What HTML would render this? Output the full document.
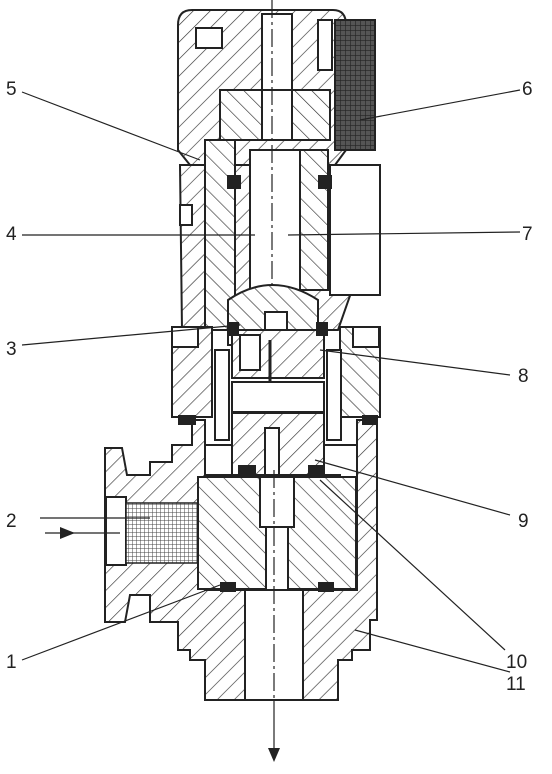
<!DOCTYPE html>
<html><head><meta charset="utf-8"><style>
html,body{margin:0;padding:0;background:#fff}
svg{display:block}
text{font-family:"Liberation Sans",sans-serif;font-size:19px;fill:#222}
.o{stroke:#222;stroke-width:2;fill:url(#h)}
.o2{stroke:#222;stroke-width:2;fill:url(#h2)}
.w{stroke:#222;stroke-width:2;fill:#fff}
.l{stroke:#222;stroke-width:1.2;fill:none}
</style></head><body>
<svg width="552" height="774" viewBox="0 0 552 774">
<defs>
<pattern id="h" width="12" height="12" patternUnits="userSpaceOnUse" patternTransform="rotate(45)"><rect width="12" height="12" fill="#fff"/><line x1="0" y1="0" x2="0" y2="12" stroke="#333" stroke-width="1.3"/></pattern>
<pattern id="h2" width="12" height="12" patternUnits="userSpaceOnUse" patternTransform="rotate(-45)"><rect width="12" height="12" fill="#fff"/><line x1="0" y1="0" x2="0" y2="12" stroke="#333" stroke-width="1.3"/></pattern>
<pattern id="m" width="4" height="4" patternUnits="userSpaceOnUse"><rect width="4" height="4" fill="#fff"/><path d="M0 0H4M0 0V4" stroke="#444" stroke-width="1"/></pattern>
<pattern id="k" width="5" height="5" patternUnits="userSpaceOnUse"><rect width="5" height="5" fill="#555"/><path d="M0 0H5M0 0V5" stroke="#222" stroke-width="1.2"/></pattern>
</defs>
<g>
<path class="o" d="M192 10 H333 Q346 10 346 25 V150 L335 165 H190 L178 150 V25 Q178 10 192 10Z"/>
<rect x="335" y="20" width="40" height="130" fill="url(#k)" stroke="#222" stroke-width="2"/>
<rect class="w" x="262" y="14" width="30" height="80"/>
<rect class="w" x="196" y="28" width="26" height="20"/>
<rect class="w" x="318" y="20" width="14" height="50"/>
<rect class="o2" x="220" y="90" width="110" height="50"/>
<rect class="w" x="262" y="90" width="30" height="50"/>
</g>
<g>
<path class="o" d="M180 165 H352 V290 L338 330 H182 Z"/>
<rect class="w" x="330" y="165" width="50" height="130"/>
<rect class="o2" x="205" y="140" width="30" height="190"/>
<rect class="o2" x="300" y="150" width="28" height="140"/>
<rect class="w" x="250" y="150" width="50" height="140"/>
<line class="l" x1="272" y1="0" x2="272" y2="300" stroke-dasharray="18 4 3 4"/>
<rect fill="#222" x="227" y="175" width="14" height="14"/><rect fill="#222" x="318" y="175" width="14" height="14"/>
<rect class="w" x="180" y="205" width="12" height="20"/>
</g>
<g>
<path class="o2" d="M228 300 Q272 270 318 300 V345 H228Z"/>
<rect class="w" x="265" y="312" width="22" height="40"/>
<rect class="o" x="232" y="330" width="92" height="48"/>
<rect class="w" x="240" y="335" width="20" height="35"/>
<rect fill="#222" x="229" y="322" width="10" height="14"/><rect fill="#222" x="316" y="322" width="12" height="14"/>
<line x1="270" y1="340" x2="270" y2="420" stroke="#222" stroke-width="3"/>
</g>
<g>
<rect class="o" x="172" y="327" width="40" height="90"/>
<rect class="w" x="172" y="327" width="26" height="20"/>
<rect class="o2" x="340" y="327" width="40" height="90"/>
<rect class="w" x="353" y="327" width="26" height="20"/>
<rect class="w" x="215" y="350" width="14" height="90"/>
<rect class="w" x="327" y="350" width="14" height="90"/>
<rect class="w" x="232" y="382" width="92" height="30"/>
</g>
<g>
<rect class="o" x="232" y="413" width="92" height="62"/>
<rect class="w" x="265" y="428" width="14" height="47"/>
<rect fill="#222" x="238" y="465" width="18" height="10"/><rect fill="#222" x="308" y="465" width="18" height="10"/>
</g>
<g>
<path class="o" d="M105 448 H122 L127 475 H150 V462 H172 V445 H192 V420 H205 V590 H357 V420 H377 V620 H370 V650 H352 V660 H338 V700 H303 V590 H245 V700 H205 V660 H190 V650 H178 V622 H150 V595 H130 L125 622 H105 Z"/>
<rect fill="#222" x="178" y="415" width="18" height="10"/><rect fill="#222" x="362" y="415" width="16" height="10"/>
<rect class="w" x="106" y="497" width="20" height="68"/>
<rect x="126" y="503" width="74" height="60" fill="url(#m)" stroke="#222" stroke-width="1.5"/>
<path class="w" d="M205 445 H232 V475 H205Z"/>
<path class="w" d="M324 445 H357 V550 H340 V475 H324Z"/>
</g>
<g>
<rect class="o2" x="198" y="477" width="158" height="112"/>
<rect class="w" x="260" y="477" width="34" height="50"/>
<rect class="w" x="266" y="527" width="22" height="63"/>
<rect fill="#222" x="220" y="582" width="16" height="10"/><rect fill="#222" x="318" y="582" width="16" height="10"/>
<rect class="w" x="245" y="590" width="58" height="110"/>
<line class="l" x1="274" y1="470" x2="274" y2="700" stroke-dasharray="18 4 3 4"/>
</g>
<g>
<line class="l" x1="22" y1="92" x2="200" y2="160"/>
<line class="l" x1="22" y1="235" x2="255" y2="235"/>
<line class="l" x1="22" y1="345" x2="240" y2="325"/>
<line class="l" x1="40" y1="518" x2="150" y2="518"/>
<line class="l" x1="22" y1="660" x2="220" y2="585"/>
<line class="l" x1="520" y1="90" x2="360" y2="120"/>
<line class="l" x1="520" y1="232" x2="288" y2="235"/>
<line class="l" x1="510" y1="375" x2="320" y2="350"/>
<line class="l" x1="510" y1="515" x2="315" y2="460"/>
<line class="l" x1="505" y1="650" x2="320" y2="480"/>
<line class="l" x1="510" y1="672" x2="355" y2="630"/>
</g>
<g>
<line class="l" x1="45" y1="533" x2="120" y2="533"/>
<polygon points="60,527 60,539 75,533" fill="#222"/>
<line class="l" x1="274" y1="700" x2="274" y2="755"/>
<polygon points="268,748 280,748 274,762" fill="#222"/>
</g>
<g>
<text x="6" y="95">5</text><text x="6" y="240">4</text><text x="6" y="355">3</text>
<text x="6" y="527">2</text><text x="6" y="668">1</text>
<text x="522" y="95">6</text><text x="522" y="240">7</text><text x="518" y="382">8</text>
<text x="518" y="527">9</text><text x="506" y="668">10</text><text x="506" y="690">11</text>
</g>
</svg>
</body></html>
